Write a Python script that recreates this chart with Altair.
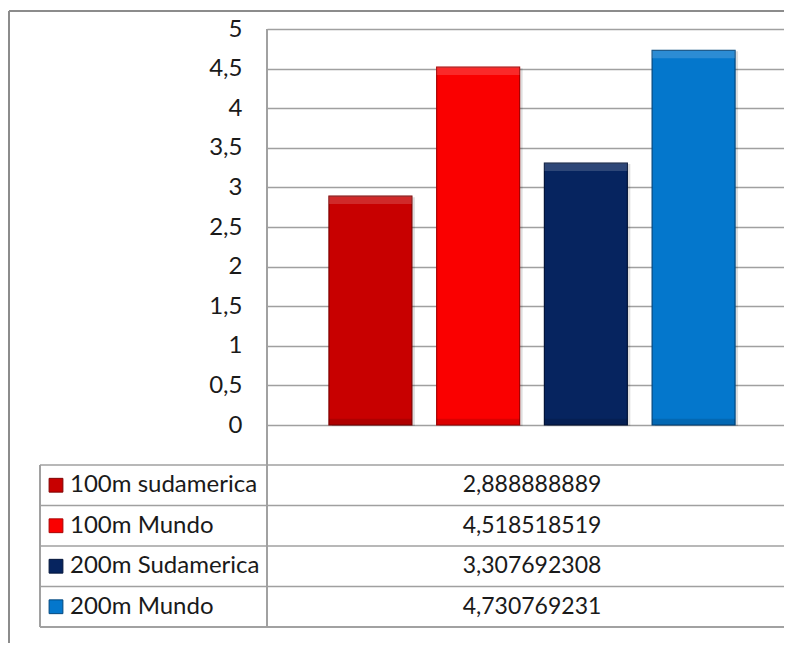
import altair as alt
import pandas as pd

# Series shown in the chart and the data table
series = ["100m sudamerica", "100m Mundo", "200m Sudamerica", "200m Mundo"]
values = [2.888888889, 4.518518519, 3.307692308, 4.730769231]
fills = ["#C80000", "#FA0000", "#06245F", "#0477CC"]
edges = ["#7E0000", "#A80000", "#021338", "#02477E"]
y_ticks = [0, 0.5, 1, 1.5, 2, 2.5, 3, 3.5, 4, 4.5, 5]

df = pd.DataFrame({"Serie": series, "v": values})

FONT = "Lato"
TXT = "#1a1a1a"
GRID = "#a0a0a0"

W, H = 517, 396
BOTTOM = 218
yq = alt.Scale(domain=[0, 5], nice=False, zero=True)
xb = alt.Scale(domain=series, range=[0, 530], paddingInner=0.23, paddingOuter=0.575)
col = alt.Color("Serie:N", scale=alt.Scale(domain=series, range=fills), legend=None)
edge = alt.Stroke("Serie:N", scale=alt.Scale(domain=series, range=edges), legend=None)
rows = alt.Scale(domain=series, range=[436, 598], paddingInner=0, paddingOuter=0)

base = alt.Chart(df)


def vline(x, y0, y1, color, w):
    """Thin filled rectangle used as a vertical line."""
    return base.mark_rect(color=color, strokeWidth=0).encode(
        x=alt.value(x - w / 2), x2=alt.value(x + w / 2),
        y=alt.value(y0), y2=alt.value(y1),
    )


# outer chart border: top and left edges (the others run off the page)
frame_top = base.mark_rule(color="#8c8c8c", strokeWidth=2).encode(
    x=alt.value(-258), x2=alt.value(W), y=alt.value(-18)
)
frame_left = vline(-258, -18, H + BOTTOM, "#8c8c8c", 2)

shadow = base.mark_bar(color="#000000", opacity=0.13, xOffset=3, yOffset=1).encode(
    x=alt.X("Serie:N", scale=xb, axis=None, sort=series),
    y=alt.Y("v:Q", scale=yq, axis=None),
)

bars = base.mark_bar(strokeWidth=1.2).encode(
    x=alt.X("Serie:N", scale=xb, axis=None, sort=series),
    y=alt.Y(
        "v:Q",
        scale=yq,
        title=None,
        axis=alt.Axis(
            values=y_ticks,
            labelExpr="replace(toString(datum.value), '.', ',')",
            grid=True,
            gridColor=GRID,
            gridWidth=1.5,
            ticks=False,
            domain=False,
            labelPadding=25,
            labelFont=FONT,
            labelFontSize=24,
            labelColor=TXT,
        ),
    ),
    color=col,
    stroke=edge,
)

# bevel highlight on top and shade at the bottom of each bar
top = base.transform_calculate(t="datum.v - 0.1").mark_bar(
    color="#ffffff", opacity=0.16
).encode(
    x=alt.X("Serie:N", scale=xb, axis=None, sort=series),
    y=alt.Y("v:Q", scale=yq, axis=None),
    y2="t:Q",
)
bottom = base.transform_calculate(b0="0", b1="0.08").mark_bar(
    color="#000000", opacity=0.12
).encode(
    x=alt.X("Serie:N", scale=xb, axis=None, sort=series),
    y=alt.Y("b1:Q", scale=yq, axis=None),
    y2="b0:Q",
)

# vertical axis line continuing through the data table
axis_line = vline(0, 0, 598, GRID, 1.5)

# data table: horizontal row lines and left column border
row_lines = base.mark_rule(color=GRID, strokeWidth=1.5, yOffset=-20.25).encode(
    y=alt.Y("Serie:N", scale=rows, axis=None, sort=series),
    x=alt.value(-227), x2=alt.value(W),
)
last_line = base.mark_rule(color=GRID, strokeWidth=1.5).encode(
    y=alt.value(598), x=alt.value(-227), x2=alt.value(W)
)
left_col = vline(-227, 436, 598, GRID, 1.5)
keys = base.mark_square(size=190, opacity=1, strokeWidth=1).encode(
    y=alt.Y("Serie:N", scale=rows, axis=None, sort=series),
    x=alt.value(-211),
    color=col,
    stroke=edge,
)
names = base.mark_text(align="left", baseline="middle", font=FONT, fontSize=24, color=TXT).encode(
    y=alt.Y("Serie:N", scale=rows, axis=None, sort=series),
    x=alt.value(-197),
    text="Serie:N",
)
nums = base.transform_calculate(
    lbl="replace(format(datum.v, '.9f'), '.', ',')"
).mark_text(align="center", baseline="middle", font=FONT, fontSize=23, color=TXT).encode(
    y=alt.Y("Serie:N", scale=rows, axis=None, sort=series),
    x=alt.value(265),
    text="lbl:N",
)

chart = (
    alt.layer(frame_top, frame_left, shadow, bars, top, bottom, axis_line,
              row_lines, last_line, left_col, keys, names, nums)
    .resolve_scale(y="independent")
    .properties(
        width=W,
        height=H,
        autosize=alt.AutoSizeParams(type="none"),
        padding={"left": 267, "top": 29, "right": 0, "bottom": BOTTOM},
        background="white",
    )
    .configure_view(stroke=None)
)

chart.save("out.html", embed_options={"renderer": "svg", "actions": False})
